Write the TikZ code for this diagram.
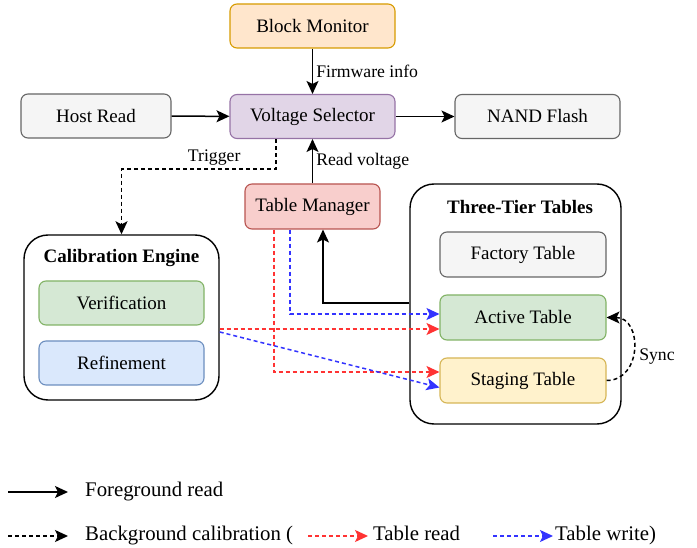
\documentclass[tikz,border=0pt]{standalone}
\usepackage{fontspec}
\setmainfont{Liberation Serif}
\usetikzlibrary{arrows.meta}

\definecolor{orangefill}{HTML}{FFE6CC}
\definecolor{orangeline}{HTML}{D79B00}
\definecolor{greyfill}{HTML}{F5F5F5}
\definecolor{greyline}{HTML}{666666}
\definecolor{purplefill}{HTML}{E1D5E7}
\definecolor{purpleline}{HTML}{9673A6}
\definecolor{redfill}{HTML}{F8CECC}
\definecolor{redline}{HTML}{B85450}
\definecolor{greenfill}{HTML}{D5E8D4}
\definecolor{greenline}{HTML}{82B366}
\definecolor{bluefill}{HTML}{DAE8FC}
\definecolor{blueline}{HTML}{6C8EBF}
\definecolor{yellowfill}{HTML}{FFF2CC}
\definecolor{yellowline}{HTML}{D6B656}
\definecolor{readred}{HTML}{FF3333}
\definecolor{writeblue}{HTML}{3333FF}

\tikzset{
  block/.style = {rectangle, rounded corners=7pt, draw, line width=1.1pt, align=center,
    minimum width=165pt, minimum height=44pt, font=\fontsize{19}{22}\selectfont},
  group/.style = {rectangle, rounded corners=24pt, draw=black, line width=1.4pt, fill=white},
  grouptitle/.style = {font=\fontsize{19}{22}\selectfont\bfseries},
  elabel/.style = {font=\fontsize{17.7}{20}\selectfont, inner sep=3pt},
  legendtext/.style = {font=\fontsize{20.8}{24}\selectfont, anchor=west, inner sep=2pt,
    text height=14pt, text depth=4.5pt},
  tip/.style = {-{Stealth[length=13pt, width=12pt, inset=3pt]}},
  fgread/.style = {tip, line width=1.5pt, draw=black},
  bgcal/.style = {tip, line width=1.5pt, draw=black, dash pattern=on 4pt off 3pt},
  tread/.style = {bgcal, draw=readred},
  twrite/.style = {bgcal, draw=writeblue},
}

\begin{document}
\begin{tikzpicture}[x=1pt, y=-1pt]
\useasboundingbox (0,0) rectangle (697,548);

% top row
\node [block, fill=orangefill, draw=orangeline] (monitor) at (312.5,26) {Block Monitor};
\node [block, fill=greyfill, draw=greyline, minimum width=150pt] (host) at (96,116) {Host Read};
\node [block, fill=purplefill, draw=purpleline] (selector) at (312.5,116.5) {Voltage Selector};
\node [block, fill=greyfill, draw=greyline] (nand) at (537.5,116.5) {NAND Flash};
\node [block, fill=redfill, draw=redline, minimum width=135pt, minimum height=45pt] (manager) at (312.5,206.5) {Table Manager};

% calibration engine
\node [group, minimum width=195pt, minimum height=165pt] (calib) at (121.5,317.5) {};
\node [grouptitle] (calibtitle) at (121.5,258) {Calibration Engine};
\node [block, fill=greenfill, draw=greenline] (verify) at (121.5,303) {Verification};
\node [block, fill=bluefill, draw=blueline] (refine) at (121.5,363) {Refinement};

% three-tier tables
\node [group, minimum width=211pt, minimum height=240pt] (tiers) at (515.5,304) {};
\node [grouptitle] (tierstitle) at (520,207) {Three-Tier Tables};
\node [block, fill=greyfill, draw=greyline, minimum width=166pt, minimum height=45pt] (factory) at (523,254.5) {Factory Table};
\node [block, fill=greenfill, draw=greenline, minimum width=166pt, minimum height=45pt] (active) at (523,317.5) {Active Table};
\node [block, fill=yellowfill, draw=yellowline, minimum width=166pt, minimum height=45pt] (staging) at (523,380.5) {Staging Table};

% foreground path
\draw [fgread] (monitor) -- (selector) node [elabel, midway, right] {Firmware info};
\draw [fgread] (host) -- (selector);
\draw [fgread] (selector) -- (nand);
\draw [fgread] (manager) -- (selector) node [elabel, midway, right] {Read voltage};
\draw [fgread] ([yshift=1pt]tiers.west) -| ([xshift=10.5pt]manager.south);

% background path
\draw [bgcal] ([xshift=-36.5pt]selector.south) -- ++(0,30) -| (calib.north)
  node [elabel, pos=0.2, above] {Trigger};
\draw [twrite] ([xshift=-22.5pt]manager.south) |- ([yshift=3.5pt]active.west);
\draw [tread] ([xshift=-38.5pt]manager.south) |- ([yshift=8.5pt]staging.west);
\draw [tread] ([yshift=-11.5pt]calib.east) -- ([yshift=-11.5pt]active.west);
\draw [twrite] ([yshift=-14.5pt]calib.east) -- ([yshift=-7pt]staging.west);
\draw [bgcal] (staging.east) .. controls +(36,0) and +(36,0) .. (active.east)
  node [elabel, pos=0.5, right, xshift=2pt, yshift=-8pt] {Sync};

% legend
\coordinate (fgA) at (8,492);
\coordinate (fgB) at (68,492);
\coordinate (bgA) at (8,536);
\coordinate (bgB) at (68,536);
\coordinate (trA) at (308,536);
\coordinate (trB) at (368,536);
\coordinate (twA) at (493,536);
\coordinate (twB) at (553,536);
\draw [fgread] (fgA) -- (fgB);
\node [legendtext] (fgtext) at (83,492) {Foreground read};
\draw [bgcal] (bgA) -- (bgB);
\node [legendtext] (bgtext) at (83,536) {Background calibration (};
\draw [tread] (trA) -- (trB);
\node [legendtext] (trtext) at (371,536) {Table read};
\draw [twrite] (twA) -- (twB);
\node [legendtext] (twtext) at (553,536) {Table write)};
\end{tikzpicture}
\end{document}
